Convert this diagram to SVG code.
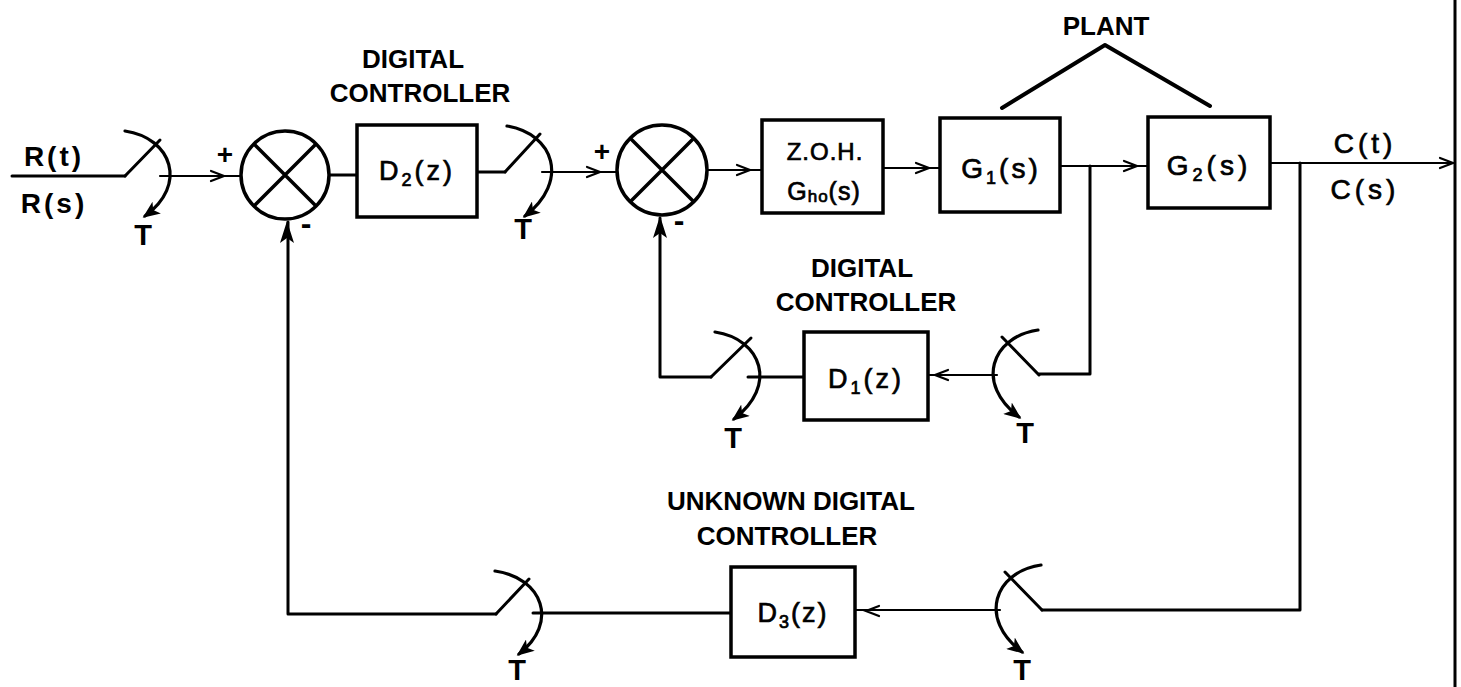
<svg xmlns="http://www.w3.org/2000/svg" xmlns:xlink="http://www.w3.org/1999/xlink" width="1461" height="687" viewBox="0 0 1461 687">
  <style>
    .ln { fill: none; stroke: #000; stroke-width: 3; stroke-linecap: round; stroke-linejoin: round; }
    .thin { fill: none; stroke: #000; stroke-width: 2.2; stroke-linecap: round; }
    .box { fill: #fff; stroke: #000; stroke-width: 3.5; }
    .sum { fill: #fff; stroke: #000; stroke-width: 3.5; }
    .lbl { font-family: "Liberation Sans", Arial, sans-serif; font-weight: bold; fill: #000; text-anchor: middle; }
    .blk { font-family: "Liberation Sans", Arial, sans-serif; font-weight: normal; fill: #000; stroke: #000; stroke-width: 0.7; text-anchor: middle; }
    .arc { fill: none; stroke: #000; stroke-width: 3.2; stroke-linecap: round; marker-end: url(#arcHead); }
    .chev { fill: none; stroke: #000; stroke-width: 2.2; stroke-linecap: round; stroke-linejoin: miter; }
  </style>
  <defs>
    <marker id="arcHead" viewBox="0 0 12 10" refX="10" refY="5" markerWidth="5.5" markerHeight="4.5" orient="auto" markerUnits="strokeWidth">
      <path d="M0,0 L12,5 L0,10 L3,5 Z" fill="#000"/>
    </marker>
    <!-- open chevron arrow, tip at origin pointing +x -->
    <path id="chev" class="chev" d="M-13,-5 L0,0 L-13,5"/>
    <!-- filled arrow, tip at origin pointing +x -->
    <path id="tri" d="M0,0 L-22,-7 L-17,0 L-22,7 Z" fill="#000"/>
  </defs>

  <!-- frame edge on the right -->
  <path class="ln" d="M1455,0 V687"/>

  <!-- connectors -->
  <g id="connectors">
    <!-- reference input into first sampler -->
    <path class="ln" d="M12,176 H125"/>
    <path class="thin" d="M160,176 H241"/>
    <use xlink:href="#chev" transform="translate(224,176)"/>
    <!-- junction 1 to D2 -->
    <path class="ln" d="M329,175 H357"/>
    <!-- D2 to sampler -->
    <path class="ln" d="M477,172 H505"/>
    <path class="thin" d="M542,172 H617"/>
    <use xlink:href="#chev" transform="translate(600,172)"/>
    <!-- junction 2 to ZOH -->
    <path class="thin" d="M707,170 H762"/>
    <use xlink:href="#chev" transform="translate(750,170)"/>
    <!-- ZOH to G1 -->
    <path class="thin" d="M883,168 H940"/>
    <use xlink:href="#chev" transform="translate(929,168)"/>
    <!-- G1 to G2 -->
    <path class="thin" d="M1060,166 H1148"/>
    <use xlink:href="#chev" transform="translate(1137,166)"/>
    <!-- output C(t) -->
    <path class="thin" d="M1270,163 H1455"/>
    <use xlink:href="#chev" transform="translate(1453,163)"/>
    <!-- inner feedback: G1 output to D1 -->
    <path class="ln" d="M1090,166 V374 H1039"/>
    <path class="thin" d="M997,375 H928"/>
    <use xlink:href="#chev" transform="translate(935,375) rotate(180)"/>
    <path class="ln" d="M804,377 H748"/>
    <path class="ln" d="M711,377 H660 V218"/>
    <use xlink:href="#tri" transform="translate(660,216) rotate(-90)"/>
    <!-- outer feedback: C(t) to D3 -->
    <path class="ln" d="M1300,163 V610 H1042"/>
    <path class="thin" d="M1000,610 H855"/>
    <use xlink:href="#chev" transform="translate(866,611) rotate(180)"/>
    <path class="ln" d="M731,613 H533"/>
    <path class="ln" d="M496,614 H288 V222"/>
    <use xlink:href="#tri" transform="translate(287,221) rotate(-90)"/>
    <!-- PLANT bracket -->
    <path class="ln" d="M1002,108 L1105,45 L1210,106" style="stroke-width:4"/>
  </g>

  <!-- samplers (switch with period T) -->
  <g id="sampler-input" transform="translate(160,176)">
    <path class="ln" d="M-35,0 L0,-36"/>
    <path class="arc" d="M-35,-45 C12,-38 28,9 -15,40"/>
  </g>
  <g id="sampler-d2" transform="translate(542,172)">
    <path class="ln" d="M-37,0 L-2,-38"/>
    <path class="arc" d="M-35,-46 C12,-38 28,9 -17,44"/>
  </g>
  <g id="sampler-d1-out" transform="translate(748,377)">
    <path class="ln" d="M-37,0 L3,-39"/>
    <path class="arc" d="M-33,-45 C14,-38 30,9 -14,42"/>
  </g>
  <g id="sampler-d3-out" transform="translate(533,614)">
    <path class="ln" d="M-37,0 L-4,-35"/>
    <path class="arc" d="M-38,-43 C10,-36 26,9 -14,40"/>
  </g>
  <g id="sampler-d1-in" transform="translate(997,375)">
    <path class="ln" d="M42,0 L5,-38"/>
    <path class="arc" d="M41,-45 C-6,-38 -22,9 22,42"/>
  </g>
  <g id="sampler-d3-in" transform="translate(1000,610)">
    <path class="ln" d="M42,0 L5,-38"/>
    <path class="arc" d="M41,-45 C-6,-38 -22,9 22,42"/>
  </g>

  <!-- summing junctions -->
  <g id="sum1">
    <circle class="sum" cx="285" cy="175" r="44"/>
    <path class="ln" d="M255,145 L315,205 M315,145 L255,205" style="stroke-width:3.5"/>
  </g>
  <g id="sum2">
    <circle class="sum" cx="662" cy="170" r="45"/>
    <path class="ln" d="M631,139 L693,201 M693,139 L631,201" style="stroke-width:3.5"/>
  </g>

  <!-- blocks -->
  <g id="block-d2">
    <rect class="box" x="357" y="125" width="120" height="92"/>
    <text class="blk" x="417" y="180" font-size="27" letter-spacing="3">D<tspan font-size="18" dy="6">2</tspan><tspan dy="-6">(z)</tspan></text>
  </g>
  <g id="block-zoh">
    <rect class="box" x="762" y="120" width="121" height="93"/>
    <text class="blk" x="825" y="160" font-size="24" letter-spacing="1">Z.O.H.</text>
    <text class="blk" x="824" y="200" font-size="25" letter-spacing="1">G<tspan font-size="17" dy="2">ho</tspan><tspan dy="-2">(s)</tspan></text>
  </g>
  <g id="block-g1">
    <rect class="box" x="940" y="118" width="120" height="94"/>
    <text class="blk" x="1001" y="178" font-size="28" letter-spacing="3">G<tspan font-size="18" dy="6">1</tspan><tspan dy="-6">(s)</tspan></text>
  </g>
  <g id="block-g2">
    <rect class="box" x="1148" y="117" width="122" height="91"/>
    <text class="blk" x="1209" y="175" font-size="28" letter-spacing="4">G<tspan font-size="18" dy="6">2</tspan><tspan dy="-6">(s)</tspan></text>
  </g>
  <g id="block-d1">
    <rect class="box" x="804" y="332" width="124" height="88"/>
    <text class="blk" x="866" y="388" font-size="27" letter-spacing="3">D<tspan font-size="18" dy="6">1</tspan><tspan dy="-6">(z)</tspan></text>
  </g>
  <g id="block-d3">
    <rect class="box" x="731" y="567" width="124" height="90"/>
    <text class="blk" x="793" y="622" font-size="27" letter-spacing="2">D<tspan font-size="18" dy="6">3</tspan><tspan dy="-6">(z)</tspan></text>
  </g>

  <!-- labels -->
  <g id="labels">
    <text class="lbl" x="54" y="166" font-size="28" letter-spacing="3">R(t)</text>
    <text class="lbl" x="54" y="213" font-size="28" letter-spacing="3">R(s)</text>
    <text class="blk" x="1365" y="153" font-size="28" letter-spacing="4">C(t)</text>
    <text class="blk" x="1365" y="199" font-size="28" letter-spacing="4">C(s)</text>
    <text class="lbl" x="225" y="164" font-size="28">+</text>
    <text class="lbl" x="306" y="234" font-size="32">-</text>
    <text class="lbl" x="602" y="161" font-size="28">+</text>
    <text class="lbl" x="679" y="231" font-size="32">-</text>
    <text class="lbl" x="413" y="68" font-size="26">DIGITAL</text>
    <text class="lbl" x="420" y="102" font-size="26">CONTROLLER</text>
    <text class="lbl" x="1106" y="35" font-size="26">PLANT</text>
    <text class="lbl" x="862" y="277" font-size="26">DIGITAL</text>
    <text class="lbl" x="866" y="311" font-size="26">CONTROLLER</text>
    <text class="lbl" x="791" y="510" font-size="26">UNKNOWN DIGITAL</text>
    <text class="lbl" x="787" y="545" font-size="26">CONTROLLER</text>
    <text class="lbl" x="143" y="245" font-size="29">T</text>
    <text class="lbl" x="523" y="239" font-size="29">T</text>
    <text class="lbl" x="733" y="448" font-size="29">T</text>
    <text class="lbl" x="1025" y="443" font-size="29">T</text>
    <text class="lbl" x="517" y="680" font-size="29">T</text>
    <text class="lbl" x="1022" y="680" font-size="29">T</text>
  </g>
</svg>
